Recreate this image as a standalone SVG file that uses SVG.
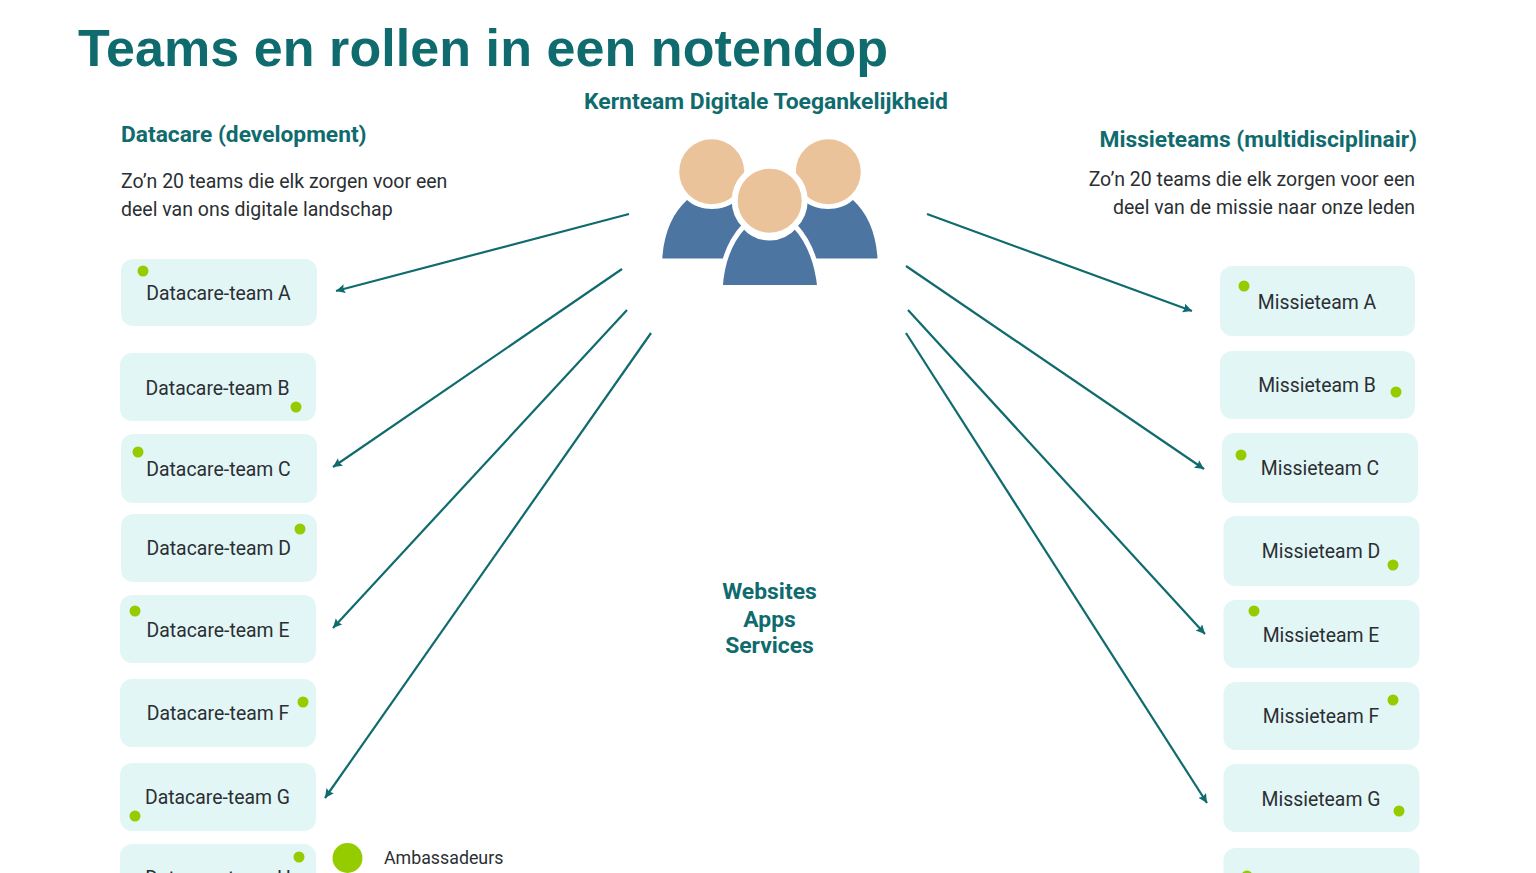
<svg xmlns="http://www.w3.org/2000/svg" width="1536" height="873" viewBox="0 0 1536 873">
<style>
.box{fill:#e3f6f6}
.dot{fill:#94cc00}
.t{font-family:Roboto,"Liberation Sans",sans-serif;font-size:19.4px;fill:#2b2f33}
.h{font-family:Roboto,"Liberation Sans",sans-serif;font-size:22.9px;font-weight:700;fill:#0f6b6e}
.s{font-size:22.75px}
.b{font-family:Roboto,"Liberation Sans",sans-serif;font-size:19.5px;fill:#2b2f33}
.m{text-anchor:middle}
.e{text-anchor:end}
.c{stroke:#0f6b6e;stroke-width:2.2;fill:none;marker-end:url(#a)}
.body{fill:#4c75a1}
.head{fill:#ebc39b}
</style>
<defs><marker id="a" markerUnits="userSpaceOnUse" markerWidth="11" markerHeight="10" refX="9" refY="4.500" orient="auto"><path d="M0 0L9 4.500L0 9L1.500 4.500Z" fill="#0f6b6e"/></marker></defs>
<rect width="1536" height="873" fill="#fff"/>
<text x="78" y="65.500" font-family="Liberation Sans,Arial,sans-serif" font-size="52" font-weight="700" fill="#0f6b6e" letter-spacing=".07">Teams en rollen in een notendop</text>
<g id="kernteam">
<text class="h m" x="766" y="109">Kernteam Digitale Toegankelijkheid</text>
<path class="body" d="M662.300 258.500C664 232 673 213 687 200C700 212 724 212 737 200C751 213 760 232 761 258.500Z"/>
<path class="body" d="M779 258.500C780 232 789 213 803 200C816 212 840 212 853 200C867 213 876 232 877.500 258.500Z"/>
<circle class="head" cx="711.700" cy="171.700" r="32.500"/>
<circle class="head" cx="828.300" cy="171.700" r="32.500"/>
<path class="body" stroke="#fff" stroke-width="5" d="M720.200 287.500C722 261 730 241 744 226C758 242 781 242 795 226C809 241 817 261 819.800 287.500Z"/>
<circle class="head" stroke="#fff" stroke-width="6" cx="769.700" cy="200.700" r="35"/>
</g>
<g id="datacare-kop">
<text class="h s" x="121" y="142">Datacare (development)</text>
<text class="b" x="121" y="188">Zo’n 20 teams die elk zorgen voor een</text>
<text class="b" x="121" y="216">deel van ons digitale landschap</text>
</g>
<g id="missie-kop">
<text class="h s e" x="1417" y="147">Missieteams (multidisciplinair)</text>
<text class="b e" x="1415" y="186">Zo’n 20 teams die elk zorgen voor een</text>
<text class="b e" x="1415" y="214">deel van de missie naar onze leden</text>
</g>
<g id="connectors">
<path class="c" d="M629 214L336 291"/>
<path class="c" d="M622 269L333 467"/>
<path class="c" d="M627 310L333 628"/>
<path class="c" d="M651 333L325 798"/>
<path class="c" d="M927 214L1192 311"/>
<path class="c" d="M906 266L1204 469"/>
<path class="c" d="M908 310L1205 634"/>
<path class="c" d="M906 333L1207 803"/>
</g>
<g id="dc-a"><rect class="box" x="121" y="259" width="196" height="67" rx="12"/><text class="t m" x="218.500" y="300">Datacare-team A</text><circle class="dot" cx="143" cy="271" r="5.500"/></g>
<g id="dc-b"><rect class="box" x="120" y="353" width="196" height="68" rx="12"/><text class="t m" x="217.500" y="395">Datacare-team B</text><circle class="dot" cx="296" cy="407" r="5.500"/></g>
<g id="dc-c"><rect class="box" x="121" y="434" width="196" height="69" rx="12"/><text class="t m" x="218.500" y="476">Datacare-team C</text><circle class="dot" cx="138" cy="452" r="5.500"/></g>
<g id="dc-d"><rect class="box" x="121" y="514" width="196" height="68" rx="12"/><text class="t m" x="218.800" y="555">Datacare-team D</text><circle class="dot" cx="300" cy="529" r="5.500"/></g>
<g id="dc-e"><rect class="box" x="120" y="595" width="196" height="68" rx="12"/><text class="t m" x="218" y="636.500">Datacare-team E</text><circle class="dot" cx="135" cy="611" r="5.500"/></g>
<g id="dc-f"><rect class="box" x="120" y="679" width="196" height="68" rx="12"/><text class="t m" x="218" y="720">Datacare-team F</text><circle class="dot" cx="303" cy="702" r="5.500"/></g>
<g id="dc-g"><rect class="box" x="120" y="763" width="196" height="68" rx="12"/><text class="t m" x="217.500" y="804">Datacare-team G</text><circle class="dot" cx="135" cy="816" r="5.500"/></g>
<g id="dc-h"><rect class="box" x="120" y="844" width="196" height="68" rx="12"/><text class="t m" x="218" y="884.500">Datacare-team H</text><circle class="dot" cx="299" cy="857" r="5.500"/></g>
<g id="mt-a"><rect class="box" x="1220" y="266" width="195" height="70" rx="12"/><text class="t m" x="1317" y="308.500">Missieteam A</text><circle class="dot" cx="1244" cy="286" r="5.500"/></g>
<g id="mt-b"><rect class="box" x="1220" y="351" width="195" height="68" rx="12"/><text class="t m" x="1317" y="392">Missieteam B</text><circle class="dot" cx="1396" cy="392" r="5.500"/></g>
<g id="mt-c"><rect class="box" x="1222" y="433" width="196" height="70" rx="12"/><text class="t m" x="1320" y="475">Missieteam C</text><circle class="dot" cx="1241" cy="455" r="5.500"/></g>
<g id="mt-d"><rect class="box" x="1223.500" y="516" width="196" height="70" rx="12"/><text class="t m" x="1321" y="558">Missieteam D</text><circle class="dot" cx="1393" cy="565" r="5.500"/></g>
<g id="mt-e"><rect class="box" x="1223.500" y="600" width="196" height="68" rx="12"/><text class="t m" x="1321" y="642">Missieteam E</text><circle class="dot" cx="1254" cy="611" r="5.500"/></g>
<g id="mt-f"><rect class="box" x="1223.500" y="682" width="196" height="68" rx="12"/><text class="t m" x="1321" y="723">Missieteam F</text><circle class="dot" cx="1393" cy="700" r="5.500"/></g>
<g id="mt-g"><rect class="box" x="1223.500" y="764" width="196" height="68" rx="12"/><text class="t m" x="1321" y="805.500">Missieteam G</text><circle class="dot" cx="1399" cy="811" r="5.500"/></g>
<g id="mt-h"><rect class="box" x="1223.500" y="848" width="196" height="68" rx="12"/><circle class="dot" cx="1247" cy="876" r="5.500"/></g>
<g id="websites"><text class="h m" x="769.500" y="599">Websites</text><text class="h m" x="769.500" y="627">Apps</text><text class="h m" x="769.500" y="653">Services</text></g>
<g id="legenda"><circle class="dot" cx="347.500" cy="858" r="15"/><text x="384" y="863.500" font-family="Roboto,sans-serif" font-size="17.800" fill="#2b2f33">Ambassadeurs</text></g>
</svg>
